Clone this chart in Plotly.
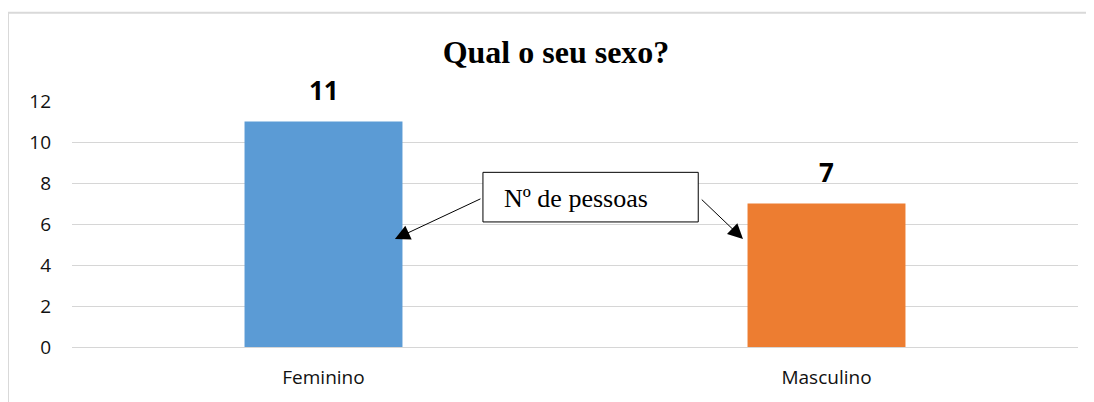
import plotly.graph_objects as go

categorias = ['Feminino', 'Masculino']
pessoas = [11, 7]
cores = ['#5B9BD5', '#ED7D31']
y_ticks = [0, 2, 4, 6, 8, 10, 12]

fig = go.Figure()

fig.add_trace(go.Bar(
    x=categorias,
    y=pessoas,
    marker=dict(color=cores, line=dict(width=0)),
    width=0.314,
    hoverinfo='x+y',
))

# rótulos de dados por cima das barras
for c, v in zip(categorias, pessoas):
    fig.add_annotation(
        x=c, y=v, text='<b>%d</b>' % v, showarrow=False,
        yanchor='bottom', yshift=12,
        font=dict(family='Open Sans', size=26, color='black'),
    )

# caixa "Nº de pessoas" com as duas setas
fig.add_shape(type='rect', xref='x', yref='y', x0=0.317, x1=0.745, y0=6.10, y1=8.52,
              line=dict(color='black', width=1), fillcolor='white', layer='above')
fig.add_annotation(x=0.355, y=7.25, xref='x', yref='y', text='Nº de pessoas', showarrow=False,
                   xanchor='left', yanchor='middle',
                   font=dict(family='Liberation Serif', size=26, color='black'))
for tip_x, tail_x in [(0.142, 0.315), (0.834, 0.749)]:
    fig.add_annotation(x=tip_x, y=5.27, ax=tail_x, ay=7.26, xref='x', yref='y',
                       axref='x', ayref='y', text='', showarrow=True,
                       arrowhead=2, arrowsize=3, arrowwidth=1, arrowcolor='black')

# moldura do gráfico
fig.add_shape(type='rect', xref='paper', yref='paper', x0=-0.0636, x1=1.2, y0=-0.5, y1=1.359,
              line=dict(color='#d9d9d9', width=2), layer='below')

fig.update_layout(
    width=1086, height=394,
    margin=dict(l=64, r=16, t=93, b=53),
    paper_bgcolor='white', plot_bgcolor='white',
    showlegend=False,
    title=dict(text='<b>Qual o seu sexo?</b>', xref='container', x=0.5046, y=0.888,
               xanchor='center', yanchor='middle',
               font=dict(family='Liberation Serif', size=32, color='black')),
    xaxis=dict(showgrid=False, showline=False, ticks='', ticklabelstandoff=17,
               tickfont=dict(family='Open Sans', size=19, color='#111111')),
    yaxis=dict(range=[0, 12], tickvals=y_ticks, showgrid=True, gridcolor='#d6d6d6', gridwidth=1.3,
               zeroline=True, zerolinecolor='#d6d6d6', zerolinewidth=1.3, showline=False,
               ticks='', ticklabelstandoff=20,
               tickfont=dict(family='Open Sans', size=19, color='#111111')),
)

fig.write_html("out.html")
